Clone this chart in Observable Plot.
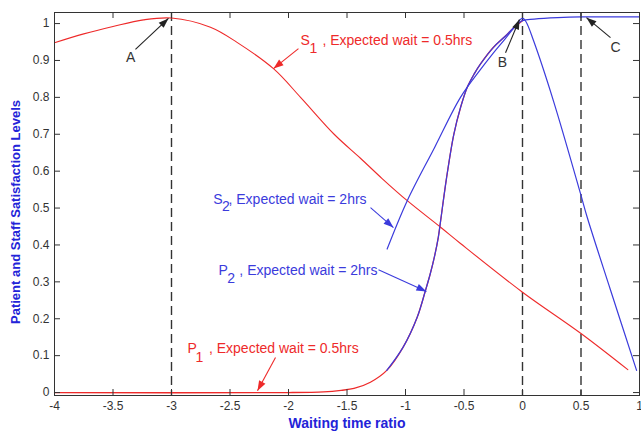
<!DOCTYPE html>
<html>
<head>
<meta charset="utf-8">
<script src="https://cdn.jsdelivr.net/npm/d3@7"></script>
<script src="https://cdn.jsdelivr.net/npm/@observablehq/plot@0.6"></script>
<style>
  html, body { margin: 0; padding: 0; background: #fff; }
  #chart svg { display: block; }
</style>
</head>
<body>
<div id="chart"></div>
<script>
// ---- data ----
const xTicks = [-4, -3.5, -3, -2.5, -2, -1.5, -1, -0.5, 0, 0.5, 1];
const yTicks = [0, 0.1, 0.2, 0.3, 0.4, 0.5, 0.6, 0.7, 0.8, 0.9, 1];
const markerLines = [-3, 0, 0.5];

const s1X = [-4, -3.75, -3.5, -3.24, -3, -2.667, -2.44, -2.126, -1.897, -1.61, -1.385, -1.2, -0.985, -0.70, -0.53, 0, 0.5, 0.9];
const s1Y = [0.948, 0.972, 0.992, 1.010, 1.015, 0.99, 0.949, 0.877, 0.80, 0.70, 0.635, 0.58, 0.52, 0.448, 0.404, 0.272, 0.16, 0.062];

const s2X = [-1.157, -0.985, -0.75, -0.53, -0.36, -0.25, -0.15, -0.07, 0, 0.03, 0.094, 0.265, 0.496, 0.553, 0.75, 0.975];
const s2Y = [0.389, 0.52, 0.665, 0.80, 0.875, 0.92, 0.958, 0.99, 1.015, 1.005, 0.954, 0.79, 0.539, 0.475, 0.28, 0.06];

const p1X = [-4, -2, -1.7, -1.55, -1.44, -1.3, -1.16, -1.02, -0.9, -0.83, -0.79, -0.75, -0.72, -0.70, -0.65, -0.587, -0.53, -0.473, -0.41, -0.36, -0.25, -0.15, -0.07, 0];
const p1Y = [0, 0, 0.002, 0.006, 0.011, 0.028, 0.06, 0.123, 0.204, 0.276, 0.32, 0.372, 0.42, 0.465, 0.58, 0.70, 0.772, 0.827, 0.865, 0.89, 0.935, 0.965, 0.99, 1.008];

const p2X = [-1.16, -1.02, -0.9, -0.83, -0.79, -0.75, -0.72, -0.70, -0.65, -0.587, -0.53, -0.473, -0.41, -0.36, -0.25, -0.15, -0.07, 0, 0.1, 0.3, 0.5, 1];
const p2Y = [0.06, 0.123, 0.204, 0.276, 0.32, 0.372, 0.42, 0.465, 0.58, 0.70, 0.772, 0.827, 0.865, 0.89, 0.935, 0.965, 0.99, 1.008, 1.012, 1.016, 1.018, 1.018];

// annotation texts (data coordinates)
const letterLabels = [
  {text: "A", x: -3.35, y: 0.909},
  {text: "B", x: -0.171, y: 0.895},
  {text: "C", x: 0.795, y: 0.936}
];
const seriesLabels = [
  {text: "S", x: -1.897, y: 0.954, series: "red"},
  {text: "1", x: -1.82, y: 0.932, series: "red"},
  {text: ", Expected wait = 0.5hrs", x: -1.71, y: 0.954, series: "red"},
  {text: "S", x: -2.643, y: 0.523, series: "blue"},
  {text: "2", x: -2.568, y: 0.503, series: "blue"},
  {text: ", Expected wait = 2hrs", x: -2.513, y: 0.523, series: "blue"},
  {text: "P", x: -2.598, y: 0.33, series: "blue"},
  {text: "2", x: -2.523, y: 0.308, series: "blue"},
  {text: ", Expected wait = 2hrs", x: -2.42, y: 0.33, series: "blue"},
  {text: "P", x: -2.863, y: 0.118, series: "red"},
  {text: "1", x: -2.795, y: 0.095, series: "red"},
  {text: ", Expected wait = 0.5hrs", x: -2.68, y: 0.118, series: "red"}
];
const arrows = [
  {x1: -3.308, y1: 0.930, x2: -3.026, y2: 1.014, series: "black"},
  {x1: -0.145, y1: 0.921, x2: -0.026, y2: 1.011, series: "black"},
  {x1: 0.752, y1: 0.962, x2: 0.547, y2: 1.016, series: "black"},
  {x1: -1.915, y1: 0.932, x2: -2.128, y2: 0.878, series: "red"},
  {x1: -1.299, y1: 0.501, x2: -1.103, y2: 0.447, series: "blue"},
  {x1: -1.231, y1: 0.333, x2: -0.821, y2: 0.274, series: "blue"},
  {x1: -2.111, y1: 0.095, x2: -2.265, y2: 0.005, series: "red"}
];

// ---- layout / style ----
const W = 641, H = 432;
const mL = 54, mR = 2, mT = 12, mB = 37;
const xDomain = [-4, 1], yDomain = [-0.008, 1.03];
const innerW = W - mL - mR, innerH = H - mT - mB;
const palette = {red: "#ee2a2a", blue: "#3b3bdc", black: "#222222"};
const tickColor = "#333";
const font = "Liberation Sans, Arial, sans-serif";

const zip = (xs, ys) => xs.map((x, i) => ({x, y: ys[i]}));
const s1 = zip(s1X, s1Y), s2 = zip(s2X, s2Y), p1 = zip(p1X, p1Y), p2 = zip(p2X, p2Y);

const sx = Plot.scale({x: {domain: xDomain, range: [mL, W - mR]}});
const sy = Plot.scale({y: {domain: yDomain, range: [H - mB, mT]}});
const arrowData = arrows.map(a => ({
  ...a,
  color: palette[a.series],
  angle: Math.atan2(sy.apply(a.y2) - sy.apply(a.y1), sx.apply(a.x2) - sx.apply(a.x1)) * 180 / Math.PI
}));
const headSymbol = {
  draw(ctx) { ctx.moveTo(0, 0); ctx.lineTo(-10, -3.6); ctx.lineTo(-10, 3.6); ctx.closePath(); }
};

const chart = Plot.plot({
  width: W, height: H,
  marginLeft: mL, marginRight: mR, marginTop: mT, marginBottom: mB,
  style: {fontFamily: font, background: "#fff"},
  x: {domain: xDomain},
  y: {domain: yDomain},
  color: {type: "identity"},
  marks: [
    Plot.ruleX(markerLines, {x: d => d, stroke: "#333", strokeWidth: 1.4, strokeDasharray: "9,5"}),
    Plot.line(p1, {x: "x", y: "y", stroke: palette.red, strokeWidth: 1.3, curve: "catmull-rom"}),
    Plot.line(s1, {x: "x", y: "y", stroke: palette.red, strokeWidth: 1.1, curve: "catmull-rom"}),
    Plot.line(p2, {x: "x", y: "y", stroke: palette.blue, strokeWidth: 1.2, curve: "catmull-rom"}),
    Plot.line(s2, {x: "x", y: "y", stroke: palette.blue, strokeWidth: 1.2, curve: "catmull-rom"}),
    Plot.link(arrowData, {x1: "x1", y1: "y1", x2: "x2", y2: "y2", stroke: "color", strokeWidth: 1.1}),
    Plot.dot(arrowData, {x: "x2", y: "y2", symbol: headSymbol, rotate: "angle", fill: "color", stroke: "none"}),
    Plot.text(letterLabels, {x: "x", y: "y", text: "text", fill: "#333", fontSize: 14, fontFamily: font}),
    Plot.text(seriesLabels, {x: "x", y: "y", text: "text", fill: d => palette[d.series], fontSize: 14, textAnchor: "start", fontFamily: font}),
    Plot.frame({stroke: "#333", strokeWidth: 1}),
    Plot.tickX(xTicks, {x: d => d, stroke: tickColor, insetTop: innerH - 6}),
    Plot.tickX(xTicks, {x: d => d, stroke: tickColor, insetBottom: innerH - 6}),
    Plot.tickY(yTicks, {y: d => d, stroke: tickColor, insetRight: innerW - 6}),
    Plot.tickY(yTicks, {y: d => d, stroke: tickColor, insetLeft: innerW - 6}),
    Plot.axisX(xTicks, {tickSize: 0, tickPadding: 6, tickFormat: d => String(d), fontSize: 12, fill: tickColor, label: null}),
    Plot.axisY(yTicks, {tickSize: 0, tickPadding: 5, tickFormat: d => String(d), fontSize: 12, fill: tickColor, label: null}),
    Plot.text(["Waiting time ratio"], {frameAnchor: "bottom", dy: 28, lineAnchor: "middle", textAnchor: "middle", fill: "#2323d8", fontWeight: "bold", fontSize: 14, fontFamily: font}),
    Plot.text(["Patient and Staff Satisfaction Levels"], {frameAnchor: "left", dx: -39, dy: 8, rotate: -90, textAnchor: "middle", lineAnchor: "middle", fill: "#2323d8", fontWeight: "bold", fontSize: 13, fontFamily: font})
  ]
});
document.getElementById("chart").appendChild(chart);
</script>
</body>
</html>
